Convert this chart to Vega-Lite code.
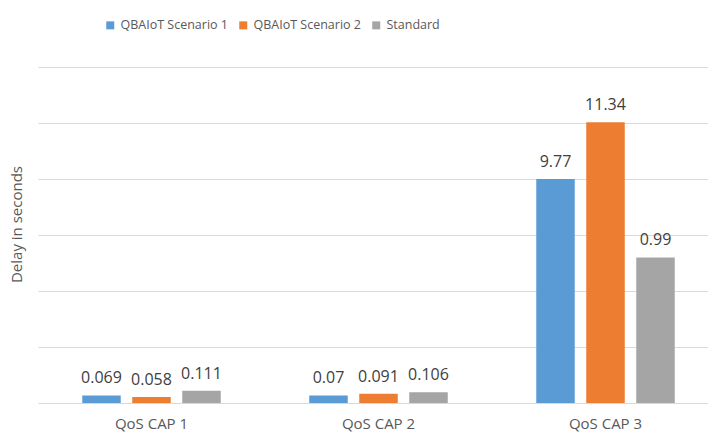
{
  "$schema": "https://vega.github.io/schema/vega-lite/v6.json",
  "width": 670,
  "height": 336,
  "autosize": {"type": "none"},
  "padding": {"left": 38, "top": 67, "right": 0, "bottom": 34},
  "background": "white",
  "config": {
    "font": "Open Sans",
    "view": {"stroke": null}
  },
  "data": {
    "values": [
      {"cap": "QoS CAP 1", "series": "QBAIoT Scenario 1", "delay": 0.069, "plotted": 0.27},
      {"cap": "QoS CAP 1", "series": "QBAIoT Scenario 2", "delay": 0.058, "plotted": 0.21},
      {"cap": "QoS CAP 1", "series": "Standard", "delay": 0.111, "plotted": 0.44},
      {"cap": "QoS CAP 2", "series": "QBAIoT Scenario 1", "delay": 0.07, "plotted": 0.27},
      {"cap": "QoS CAP 2", "series": "QBAIoT Scenario 2", "delay": 0.091, "plotted": 0.33},
      {"cap": "QoS CAP 2", "series": "Standard", "delay": 0.106, "plotted": 0.38},
      {"cap": "QoS CAP 3", "series": "QBAIoT Scenario 1", "delay": 9.77, "plotted": 8.0},
      {"cap": "QoS CAP 3", "series": "QBAIoT Scenario 2", "delay": 11.34, "plotted": 10.03},
      {"cap": "QoS CAP 3", "series": "Standard", "delay": 0.99, "plotted": 5.2}
    ]
  },
  "encoding": {
    "x": {
      "field": "cap", "type": "nominal",
      "scale": {"range": [0, 681], "paddingInner": 0, "paddingOuter": 0},
      "axis": {"title": null, "labelAngle": 0, "ticks": false, "domain": false, "labelColor": "#595959", "labelFontSize": 15, "labelPadding": 13}
    },
    "xOffset": {
      "field": "series", "type": "nominal",
      "scale": {"paddingInner": 0.23, "paddingOuter": 0.885}
    },
    "y": {
      "field": "plotted", "type": "quantitative",
      "scale": {"domain": [0, 12], "nice": false},
      "axis": {
        "title": "Delay in seconds", "titleColor": "#595959", "titleFontSize": 15, "titleFontWeight": "normal",
        "titlePadding": 14, "titleY": 157, "labels": false, "ticks": false, "domain": false,
        "values": [0, 2, 4, 6, 8, 10, 12], "gridColor": "#d9d9d9", "gridWidth": 1
      }
    }
  },
  "layer": [
    {
      "mark": {"type": "bar"},
      "encoding": {
        "color": {
          "field": "series", "type": "nominal",
          "scale": {"domain": ["QBAIoT Scenario 1", "QBAIoT Scenario 2", "Standard"], "range": ["#5B9BD5", "#ED7D31", "#A5A5A5"]},
          "legend": {
            "title": null, "orient": "none", "direction": "horizontal",
            "legendX": 66, "legendY": -48,
            "symbolType": "square", "symbolSize": 64, "symbolStrokeWidth": 0,
            "labelFontSize": 12.5, "labelColor": "#595959", "labelOffset": 4, "columnPadding": 9
          }
        }
      }
    },
    {
      "mark": {"type": "text", "baseline": "bottom", "dy": -9, "fontSize": 16, "color": "#404040"},
      "encoding": {
        "text": {"field": "delay", "type": "nominal"}
      }
    }
  ]
}
